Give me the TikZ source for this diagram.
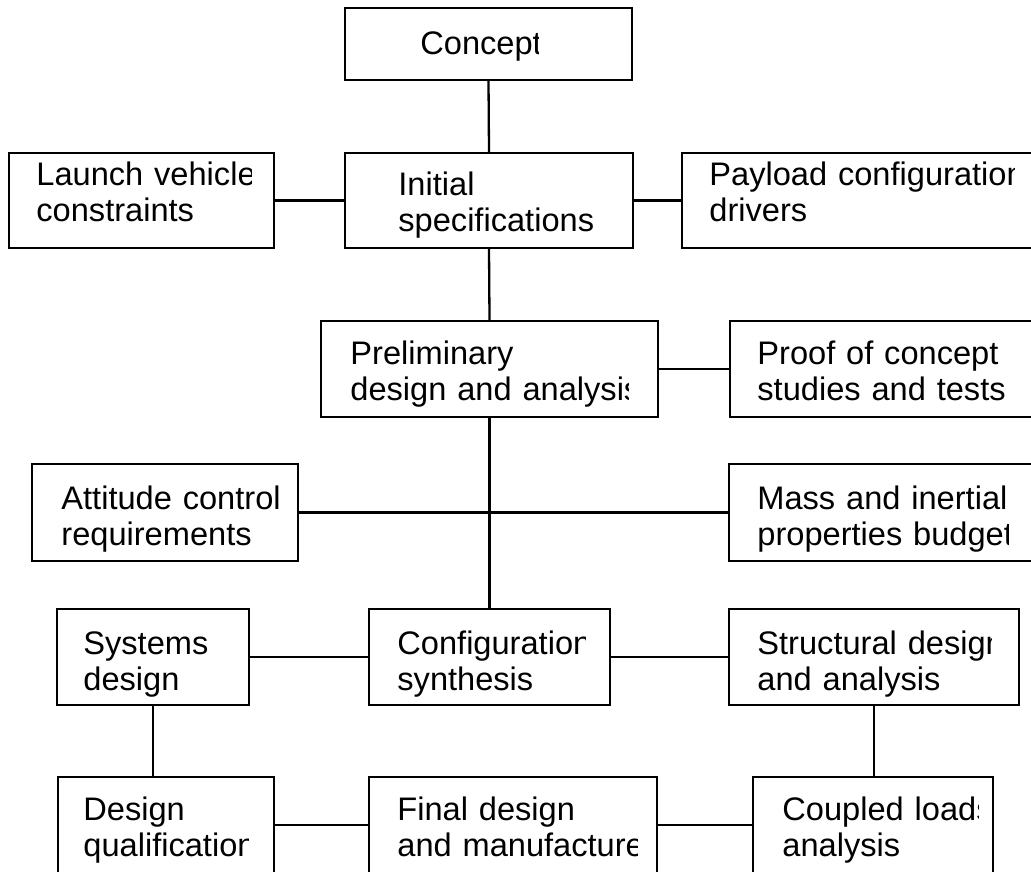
\documentclass[tikz,border=0pt]{standalone}
\usepackage{fontspec}
\setmainfont{Liberation Sans}
\tikzset{
  dbox/.style={draw=black, line width=1.2pt, rectangle, inner sep=0pt, fill=none},
  dtxt/.style={inner sep=0pt, text width=300pt, align=left, anchor=base west,
    font=\fontsize{16.3}{18}\selectfont},
  link/.style={draw=black, line width=1.15pt}
}
% name, x1, y1, x2, y2, text x, first baseline, clip x, text
\newcommand{\mkbox}[9]{%
  \node[dbox, minimum width={(#4-#2)*0.5pt}, minimum height={(#5-#3)*0.5pt}]
    (#1) at ({(#2+#4)/2},{(#3+#5)/2}) {};
  \begin{scope}
    \clip (#2,#3) rectangle (#8,#5);
    \node[dtxt] (#1-t) at (#6,#7) {#9};
  \end{scope}}
\begin{document}
\begin{tikzpicture}[x=0.5pt, y=-0.5pt]
\useasboundingbox (0,0) rectangle (1031,871);
\fill[white] (0,0) rectangle (1031,871);
\clip (0,0) rectangle (1031,871);

\mkbox{concept}{345}{8}{632}{80}{420}{55}{538}{Concept}
\mkbox{launch}{9}{153}{274}{248}{36}{186}{251}{Launch vehicle\\constraints}
\mkbox{init}{345}{153}{633}{248}{398}{196}{612}{Initial\\specifications}
\mkbox{payload}{682}{153}{1045}{248}{709}{186}{1014}{Payload configuration\\drivers}
\mkbox{prelim}{321}{321}{658}{417}{350}{364}{628}{Preliminary\\design and analysis}
\mkbox{proof}{730}{321}{1045}{417}{757}{364}{1031}{Proof of concept\\studies and tests}
\mkbox{att}{32}{464}{298}{561}{61}{509}{280}{Attitude control\\requirements}
\mkbox{mass}{729}{464}{1045}{561}{757}{509}{1008}{Mass and inertial\\properties budget}
\mkbox{sys}{57}{609}{249}{705}{83}{654}{228}{Systems\\design}
\mkbox{config}{369}{609}{610}{705}{397}{654}{585}{Configuration\\synthesis}
\mkbox{struct}{729}{609}{1019}{705}{757}{654}{991}{Structural design\\and analysis}
\mkbox{qual}{58}{777}{274}{873}{83}{820}{248}{Design\\qualification}
\mkbox{final}{369}{777}{657}{873}{397}{820}{637}{Final design\\and manufacture}
\mkbox{coupled}{753}{777}{993}{873}{782}{820}{978}{Coupled loads\\analysis}

\draw[link] (concept.south) -- (init.north);
\draw[link] (launch.east) -- (init.west);
\draw[link] (init.east) -- (payload.west);
\draw[link] (init.south) -- (prelim.north);
\draw[link] (prelim.east) -- (proof.west);
\draw[link] (prelim.south) -- (config.north);
\draw[link] (att.east) -- (mass.west);
\draw[link] (sys.east) -- (config.west);
\draw[link] (config.east) -- (struct.west);
\draw[link] (sys.south) -- (sys.south |- qual.north);
\draw[link] (qual.east) -- (final.west);
\draw[link] (final.east) -- (coupled.west);
\draw[link] (struct.south) -- (struct.south |- coupled.north);
\end{tikzpicture}
\end{document}
